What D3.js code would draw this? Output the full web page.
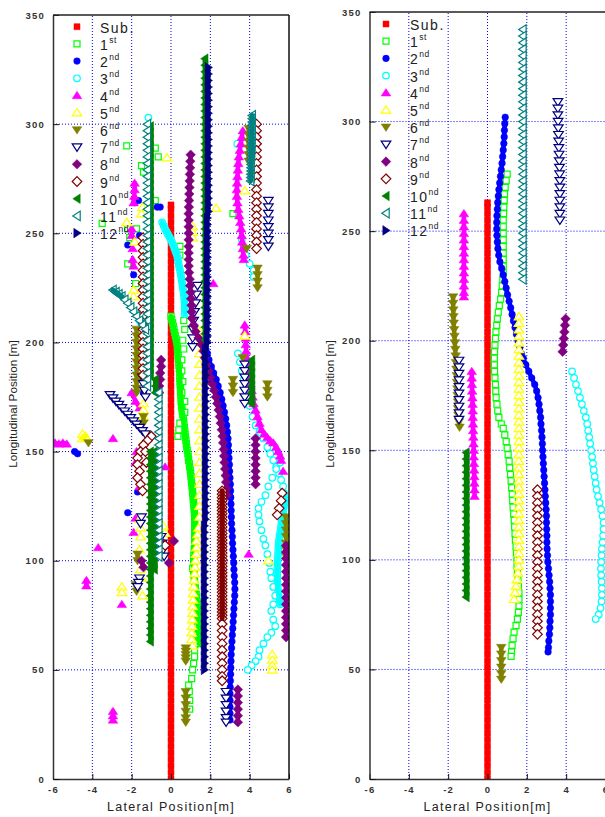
<!DOCTYPE html>
<html>
<head>
<meta charset="utf-8">
<script src="https://cdn.jsdelivr.net/npm/d3@7"></script>
<style>
  body { margin: 0; background: #fff; }
  svg { display: block; font-family: Arial, "Liberation Sans", sans-serif; }
</style>
</head>
<body>
<svg id="chart" width="605" height="817"></svg>
<script>
// legend labels and ticks
const seriesLabels = ["Sub.", "1", "2", "3", "4", "5", "6", "7", "8", "9", "10", "11", "12"];
const seriesSups = ["", "st", "nd", "nd", "nd", "nd", "nd", "nd", "nd", "nd", "nd", "nd", "nd"];
const xTickValues = [-6, -4, -2, 0, 2, 4, 6];
const yTickValues = [0, 50, 100, 150, 200, 250, 300, 350];

// subject vehicle, same in both panels
const subTrack = [[0,0],[0,3],[0,6],[0,9],[0,12],[0,15],[0,18],[0,21],[0,24],[0,27],[0,30],[0,33],[0,36],[0,39],[0,42],[0,45],[0,48],[0,51],[0,54],[0,57],[0,60],[0,63],[0,66],[0,69],[0,72],[0,75],[0,78],[0,81],[0,84],[0,87],[0,90],[0,93],[0,96],[0,99],[0,102],[0,105],[0,108],[0,111],[0,114],[0,117],[0,120],[0,123],[0,126],[0,129],[0,132],[0,135],[0,138],[0,141],[0,144],[0,147],[0,150],[0,153],[0,156],[0,159],[0,162],[0,165],[0,168],[0,171],[0,174],[0,177],[0,180],[0,183],[0,186],[0,189],[0,192],[0,195],[0,198],[0,201],[0,204],[0,207],[0,210],[0,213],[0,216],[0,219],[0,222],[0,225],[0,228],[0,231],[0,234],[0,237],[0,240],[0,243],[0,246],[0,249],[0,252],[0,255],[0,258],[0,261],[0,263]];

// ---- left panel, one list of tracks per vehicle ----
const leftSub = [subTrack];
const left1st = [
  [[0.0,212],[0.04,210.5],[0.08,209],[0.12,207.5],[0.15,206],[0.19,204.5],[0.22,203],[0.26,201.5],[0.3,200],[0.32,198.5],[0.33,197],[0.35,195.5],[0.36,194],[0.38,192.5],[0.4,191],[0.41,189.5],[0.42,188],[0.44,186.5],[0.45,185],[0.45,183.5],[0.46,182],[0.47,180.5],[0.48,179],[0.49,177.5],[0.5,176],[0.51,174.5],[0.52,173],[0.53,171.5],[0.55,170],[0.57,168.5],[0.6,167],[0.62,165.5],[0.64,164],[0.66,162.5],[0.68,161],[0.7,159.5],[0.72,158],[0.74,156.5],[0.76,155],[0.78,153.5],[0.8,152],[0.83,150.5],[0.86,149],[0.88,147.5],[0.9,146],[0.93,144.5],[0.95,143],[0.98,141.5],[1.0,140],[1.02,138.5],[1.03,137],[1.05,135.5],[1.07,134],[1.09,132.5],[1.1,131],[1.12,129.5],[1.13,128],[1.15,126.5],[1.16,125],[1.18,123.5],[1.19,122],[1.2,120.5],[1.2,119],[1.2,117.5],[1.2,116],[1.2,114.5],[1.2,113],[1.2,111.5],[1.2,110],[1.2,108.5],[1.2,107],[1.19,105.5],[1.18,104],[1.17,102.5],[1.16,101],[1.15,99.5],[1.15,98],[1.15,96.5],[1.15,95],[1.16,93.5],[1.18,92],[1.2,90.5],[1.22,89],[1.24,87.5],[1.26,86],[1.28,84.5],[1.3,83],[1.32,81.5],[1.33,80],[1.34,78.5],[1.35,77],[1.36,75.5],[1.37,74],[1.37,72.5],[1.38,71],[1.39,69.5],[1.4,68],[1.4,66.5],[1.4,65],[1.41,63.5],[1.42,62]],
  [[0.95,32],[0.95,36],[0.93,40],[0.9,43],[1.05,46],[1.1,50],[1.15,53],[1.2,56],[1.2,59],[1.25,62],[1.3,66],[1.35,70],[1.1,96.5]],
  [[0.45,244],[0.45,240],[0.65,210],[0.7,206],[0.6,201],[0.65,197],[0.55,192],[0.55,187],[0.6,182],[0.55,177],[0.7,173],[0.7,168],[0.45,163],[0.4,160],[0.35,157]],
  [[-2.25,290],[-1.5,281],[-1.4,278],[-0.8,289],[-0.65,285],[-0.8,265],[-3.5,254.5],[-2.2,252],[-1.75,252],[-2.1,248],[-2.2,236],[-1.8,227],[3.15,259]]
];
const left2nd = [
  [[1.75,198],[1.85,195],[1.93,192],[2.05,189],[2.17,186],[2.3,183],[2.4,180],[2.5,177],[2.58,174],[2.65,171],[2.72,168],[2.78,165],[2.83,162],[2.87,159],[2.9,156],[2.92,153],[2.94,150],[2.95,147],[2.97,144],[2.98,141],[3.0,138],[3.02,135],[3.03,132],[3.04,129],[3.05,126],[3.06,123],[3.07,120],[3.08,117],[3.1,114],[3.12,111],[3.13,108],[3.15,105],[3.17,102],[3.19,99],[3.2,96],[3.22,93],[3.24,90],[3.25,87],[3.24,84],[3.22,81],[3.2,78],[3.18,75],[3.16,72],[3.14,69],[3.12,66],[3.1,63],[3.08,60],[3.06,57],[3.05,54],[3.04,51],[3.03,48],[3.02,45],[3.01,42],[3.0,39],[3.0,36],[3.0,33],[3.0,30],[3.0,27]],
  [[-1.85,264],[-1.65,265],[-0.55,262],[-0.7,262],[-2.2,244.6],[-1.6,249],[-1.9,231],[-4.75,149],[-4.9,150],[-2.2,122],[-1.7,131.5],[-1.4,177]]
];
const left3rd = [
  [[-0.45,255],[-0.37,253.5],[-0.3,252],[-0.22,250.7],[-0.15,249.5],[-0.07,248.2],[0.0,247],[0.06,245.7],[0.12,244.5],[0.17,243.2],[0.22,242],[0.26,241],[0.3,240],[0.34,238.5],[0.37,237],[0.4,235.5],[0.43,234],[0.47,232.5],[0.5,231],[0.53,229.5],[0.55,228],[0.58,226.5],[0.6,225],[0.63,223.5],[0.65,222],[0.67,220.5],[0.68,219],[0.69,217.5],[0.7,216],[0.7,214.5],[0.7,213]],
  [[3.4,195],[3.5,191],[3.6,187],[3.7,183],[3.8,179],[3.9,175],[4.0,171],[4.15,166],[4.3,162],[4.5,159],[4.7,156],[4.9,152],[5.05,149],[5.2,146],[5.35,143],[5.5,140],[5.6,137],[5.7,134],[5.75,131],[5.78,129.5],[5.8,128],[5.78,126.5],[5.75,125],[5.72,123.5],[5.7,122],[5.68,120.5],[5.65,119],[5.62,117.5],[5.6,116],[5.58,114.5],[5.55,113],[5.52,111.5],[5.5,110],[5.48,108.5],[5.47,107],[5.46,105.5],[5.45,104],[5.44,102.5],[5.43,101],[5.42,99.5],[5.42,98],[5.41,96.5],[5.4,95],[5.4,93.5],[5.4,92],[5.41,90.5],[5.42,89],[5.43,87.5],[5.45,86],[5.47,84.5],[5.5,83],[5.52,81.5],[5.55,80]],
  [[5.55,145],[5.35,142],[5.15,138],[4.95,134],[4.8,130],[4.6,127],[4.45,124],[4.45,121],[4.5,118],[4.6,114],[4.7,110],[4.8,107],[4.9,103],[5.0,99],[5.05,95],[5.1,92],[5.2,88],[5.3,84],[5.2,80],[5.1,77],[5.2,73],[5.3,70],[5.1,67],[4.9,65],[4.7,62],[4.5,59],[4.45,56],[4.3,54],[4.1,52],[3.9,50]],
  [[-1.15,303],[3.37,291],[3.6,247],[3.7,243],[3.8,240],[4.0,236],[4.2,233],[4.2,230],[-1.6,213],[-1.6,210]]
];
const left4th = [
  [[3.65,297],[3.6,294],[3.55,291],[3.5,288],[3.45,285],[3.42,282],[3.4,279],[3.38,276],[3.36,273],[3.35,270],[3.35,267],[3.38,264],[3.42,261],[3.47,258],[3.52,255],[3.57,252],[3.6,249],[3.62,246],[3.65,243],[3.68,240],[3.7,238]],
  [[3.75,208],[3.78,205],[3.8,202],[3.8,199],[3.82,196],[3.85,193],[3.9,190],[3.95,187],[4.0,184],[4.05,181],[4.1,178],[4.15,175],[4.2,172],[4.3,169],[4.4,166],[4.5,163],[4.6,160],[4.75,158],[4.9,156.5],[5.05,155],[5.2,154],[5.35,152],[5.45,150],[5.55,148],[5.6,146]],
  [[-1.85,273],[-1.85,270],[-1.87,267],[-1.9,264],[-2.0,252],[-2.0,249],[-1.95,243],[-1.95,238],[-1.9,235]],
  [[-5.9,154],[-5.7,153.5],[-5.5,154],[-5.3,153.5]],
  [[-2.95,31],[-2.95,29],[-2.95,27],[-4.3,91],[-4.3,88.5],[-3.7,106],[-2.5,80],[3.95,103],[-2.95,156],[-2.0,177],[-1.8,173],[-1.6,170],[5.7,141],[2.15,227],[-0.3,143],[-1.75,150],[-1.8,145],[-1.6,134],[-1.8,119.5],[-1.9,113]]
];
const left5th = [
  [[1.45,205],[1.45,200],[1.45,195],[1.45,190],[1.45,185],[1.45,180],[1.45,175],[1.45,170],[1.45,165],[1.45,160],[1.45,155],[1.45,150],[1.45,145],[1.45,140],[1.45,135],[1.45,130],[1.45,125],[1.45,120],[1.4,115],[1.35,112],[1.3,109],[1.3,106],[1.28,103],[1.25,100],[1.22,97],[1.2,94],[1.17,91],[1.15,88],[1.13,85],[1.12,82],[1.1,79],[1.1,76],[1.08,73],[1.07,70],[1.05,67],[1.05,64],[1.1,61]],
  [[5.15,57],[5.15,54.5],[5.15,52],[5.15,50]],
  [[-2.5,88],[-2.5,85.5],[-4.5,158],[-4.5,156],[-4.35,157],[-0.2,284.6],[2.3,261.5],[3.75,269.5],[-2.25,255],[1.1,253],[1.1,250.5],[1.1,248],[3.75,203],[-1.9,224],[-1.9,221],[-1.4,172],[-1.4,169],[-1.4,166],[4.95,100],[-1.6,119],[-1.55,115],[-1.6,105],[-1.55,96],[-1.5,92],[-1.45,84],[-0.3,112.6],[-1.85,246],[-1.5,259],[-1.45,262],[-0.4,116],[-1.55,111]]
];
const left6th = [
  [[-1.75,206],[-1.75,203],[-1.75,200],[-1.75,197],[-1.75,194],[-1.75,191],[-1.75,188],[-1.75,185],[-1.75,182],[-1.75,179],[-1.75,177]],
  [[4.4,234],[4.4,231],[4.4,228],[4.4,225]],
  [[3.95,298],[3.95,295],[3.95,292],[3.95,289],[3.95,286],[3.95,283]],
  [[0.75,60],[0.75,58.5],[0.75,57],[0.75,55.5],[0.75,54]],
  [[0.75,40],[0.75,37],[0.75,34],[0.75,31],[0.75,28],[0.75,26]],
  [[5.85,120],[5.85,117],[5.85,114],[5.85,111],[5.85,108],[5.85,105],[5.85,102]],
  [[3.85,243],[3.15,183],[3.15,180],[3.15,177],[4.9,181],[4.9,178],[4.9,175],[3.65,193],[-4.2,154],[-1.4,166],[-1.4,163],[-1.7,103],[-1.7,100],[-1.8,89],[-1.75,86],[-1.3,223],[-1.3,220]]
];
const left7th = [
  [[4.95,265],[4.95,262],[4.95,259],[4.95,256],[4.95,253],[4.95,250],[4.95,247],[4.95,244]],
  [[-3.1,176],[-2.95,174.5],[-2.8,173],[-2.65,171.5],[-2.5,170],[-2.35,168.5],[-2.2,167],[-2.05,165.5],[-1.9,164],[-1.75,162.5],[-1.6,161],[-1.45,159.5],[-1.3,158]],
  [[3.75,190],[3.75,187],[3.75,184],[3.75,181],[3.75,178],[3.75,175],[3.75,172]],
  [[2.8,40],[2.8,37],[2.8,34],[2.8,31],[2.8,28],[2.8,26]],
  [[-0.5,111],[-0.45,108],[-0.4,105],[-0.35,102]],
  [[-1.6,92],[-1.65,90],[-1.7,88],[-1.5,120],[-1.55,117]],
  [[-1.45,184],[-1.4,181],[-1.35,178],[-1.3,175]],
  [[1.35,226],[1.3,222],[1.25,218],[1.2,214],[1.15,210],[1.12,206],[1.1,202],[1.1,198]]
];
const left8th = [
  [[1.0,286],[0.98,283],[0.97,280],[0.96,277],[0.95,274],[0.94,271],[0.93,268],[0.92,265],[0.91,262],[0.9,259],[0.9,256],[0.9,253],[0.9,250],[0.9,247],[0.9,244],[0.9,241],[0.9,238],[0.9,235],[0.92,232],[0.95,229],[0.97,226],[1.0,223],[1.02,220],[1.04,217],[1.05,214],[1.07,211],[1.15,208],[1.25,205],[1.4,202],[1.55,199],[1.65,196],[1.72,193],[1.8,190],[1.9,187],[2.0,184],[2.1,181],[2.2,178],[2.28,175],[2.35,172],[2.42,169],[2.48,166],[2.53,163],[2.58,160],[2.62,157],[2.65,154],[2.68,151],[2.7,148],[2.72,145],[2.75,142],[2.78,139],[2.8,136],[2.83,133],[2.85,130]],
  [[4.3,156],[4.3,153],[4.3,150],[4.3,147],[4.3,144],[4.3,141],[4.3,138],[4.3,135]],
  [[5.85,107],[5.85,104],[5.85,101],[5.85,98],[5.85,95],[5.85,92],[5.85,89],[5.85,86],[5.85,83],[5.85,80],[5.85,77],[5.85,74],[5.85,71],[5.85,68],[5.85,65]],
  [[3.4,41],[3.4,38],[3.4,35],[3.4,32],[3.4,29],[3.4,26]],
  [[-0.5,192],[-0.5,189],[-0.55,186],[-0.55,183],[-0.6,180],[-0.6,177]],
  [[0.15,109],[-0.1,99],[-0.4,108],[-1.4,97],[-1.5,100]]
];
const left9th = [
  [[-1.42,248],[-1.42,245],[-1.42,242],[-1.42,239],[-1.42,236],[-1.42,233],[-1.42,230],[-1.42,227],[-1.42,224],[-1.42,221],[-1.42,218],[-1.42,215],[-1.42,212],[-1.42,209],[-1.42,206],[-1.42,203],[-1.42,200],[-1.42,197],[-1.42,194],[-1.42,191],[-1.42,188],[-1.42,185]],
  [[-1.0,157],[-1.2,155],[-1.4,153],[-1.55,150],[-1.7,147],[-1.7,144],[-1.6,141],[-1.7,138],[-1.55,135],[-1.45,132],[-1.3,150],[-1.25,145]],
  [[4.35,300],[4.35,297],[4.35,294],[4.35,291],[4.35,288],[4.35,285],[4.35,282],[4.35,279],[4.35,276],[4.35,273],[4.35,270],[4.35,267],[4.35,264],[4.35,261],[4.35,258],[4.35,255],[4.35,252],[4.35,249],[4.35,246],[4.35,243]],
  [[2.6,132],[2.6,130.5],[2.6,129],[2.6,127.5],[2.6,126],[2.6,124.5],[2.6,123],[2.6,121.5],[2.6,120],[2.6,118.5],[2.6,117],[2.6,115.5],[2.6,114],[2.6,112.5],[2.6,111],[2.6,109.5],[2.6,108],[2.6,106.5],[2.6,105],[2.6,103.5],[2.6,102],[2.6,100.5],[2.6,99],[2.6,97.5],[2.6,96],[2.6,94.5],[2.6,93],[2.6,91.5],[2.6,90],[2.6,88.5],[2.6,87],[2.6,85.5],[2.6,84],[2.6,82.5],[2.6,81],[2.6,79.5],[2.6,78],[2.6,76.5],[2.6,75],[2.6,73.5],[2.6,71],[2.6,68],[2.6,65],[2.6,62],[2.6,59],[2.6,56],[2.6,53],[2.6,50],[2.6,47],[2.6,45]],
  [[5.65,131],[5.6,127.5],[5.5,124],[5.4,121]],
  [[-0.3,107]]
];
const left10th = [
  [[1.72,330],[1.72,327],[1.72,324],[1.72,321],[1.72,318],[1.72,315],[1.72,312],[1.72,309],[1.72,306],[1.72,303],[1.72,300],[1.72,297],[1.72,294],[1.72,291],[1.72,288],[1.72,285],[1.72,282],[1.72,279],[1.72,276],[1.72,273],[1.72,270],[1.72,267],[1.72,264],[1.72,261],[1.72,258],[1.72,255],[1.72,252],[1.72,249],[1.72,246],[1.72,243],[1.72,240],[1.72,237],[1.72,234],[1.72,231],[1.72,228],[1.72,225],[1.72,222],[1.72,219],[1.72,216],[1.72,213],[1.72,210],[1.72,207],[1.72,204],[1.72,201]],
  [[-1.05,150],[-1.05,147],[-1.05,144],[-1.05,141],[-1.05,138],[-1.05,135],[-1.05,132],[-1.05,129],[-1.05,126],[-1.05,123],[-1.05,120],[-1.05,117],[-1.05,114],[-1.05,111],[-1.05,108],[-1.05,105],[-1.05,102],[-1.05,99],[-1.05,96],[-1.05,93],[-1.05,90],[-1.05,87],[-1.05,84],[-1.05,81],[-1.05,78],[-1.05,75],[-1.05,72],[-1.05,69],[-1.05,66],[-1.05,63]],
  [[-0.85,150],[-0.85,147],[-0.85,144],[-0.85,141],[-0.85,138],[-0.85,135],[-0.85,132],[-0.85,129],[-0.85,126],[-0.85,123],[-0.85,120],[-0.85,117],[-0.85,114],[-0.85,111],[-0.85,108],[-0.85,105],[-0.85,102],[-0.85,99],[-0.85,96]],
  [[-1.05,299],[-1.05,296],[-1.05,293],[-1.05,290],[-1.05,287],[-1.05,284],[-1.05,281],[-1.05,278],[-1.05,275],[-1.05,272],[-1.05,269],[-1.05,266],[-1.05,263],[-1.05,260],[-1.05,257],[-1.05,254],[-1.05,251],[-1.05,248],[-1.05,245],[-1.05,242],[-1.05,239],[-1.05,236],[-1.05,233],[-1.05,230],[-1.05,227],[-1.05,224],[-1.05,221],[-1.05,218],[-1.05,215],[-1.05,212],[-1.05,209],[-1.05,206],[-1.05,203],[-1.05,200],[-1.05,197],[-1.05,194],[-1.05,191],[-1.05,188],[-1.05,185]],
  [[4.1,192],[4.1,189],[4.1,186],[4.1,183],[4.1,180],[4.1,177],[4.1,174],[4.1,172]],
  [[-0.8,183],[-0.8,180],[-0.8,177]]
];
const left11th = [
  [[-1.2,300],[-1.2,297],[-1.2,294],[-1.2,291],[-1.2,288],[-1.2,285],[-1.2,282],[-1.2,279],[-1.2,276],[-1.2,273],[-1.2,270],[-1.2,267],[-1.2,264],[-1.2,261],[-1.2,258],[-1.2,255],[-1.2,252],[-1.2,249],[-1.2,246],[-1.2,243],[-1.2,240],[-1.2,237],[-1.2,234],[-1.2,231],[-1.2,228],[-1.2,225],[-1.2,222],[-1.2,219],[-1.2,216],[-1.2,213],[-1.2,210],[-1.2,207],[-1.2,204],[-1.2,201],[-1.2,198],[-1.2,195],[-1.2,192],[-1.2,189],[-1.2,186],[-1.2,183],[-1.2,180]],
  [[-0.62,177],[-0.62,174],[-0.62,171],[-0.62,168],[-0.62,165],[-0.62,162],[-0.62,159],[-0.62,156],[-0.62,153],[-0.62,150],[-0.62,147],[-0.62,144],[-0.62,141],[-0.62,138],[-0.62,135],[-0.62,132],[-0.62,129],[-0.62,126],[-0.62,123],[-0.62,120],[-0.62,117],[-0.62,114],[-0.62,111],[-0.62,108],[-0.62,105],[-0.62,102]],
  [[-2.95,224],[-2.8,223],[-2.65,222],[-2.5,221],[-2.35,219.5],[-2.2,218],[-2.05,216],[-1.9,214],[-1.75,212],[-1.6,210],[-1.45,208],[-1.3,206]],
  [[4.13,304],[4.13,302.5],[4.13,301],[4.12,299.5],[4.12,298],[4.11,296.5],[4.11,295],[4.11,293.5],[4.1,292],[4.1,290.5],[4.1,289],[4.09,287.5],[4.09,286],[4.08,284.5],[4.08,283],[4.07,281.5],[4.07,280],[4.07,278.5],[4.06,277],[4.06,275.5],[4.05,274]]
];
const left12th = [
  [[1.9,326],[1.9,323],[1.9,320],[1.9,317],[1.9,314],[1.9,311],[1.9,308],[1.9,305],[1.9,302],[1.9,299],[1.9,296],[1.9,293],[1.9,290],[1.9,287],[1.9,284],[1.9,281],[1.9,278],[1.9,275],[1.9,272],[1.9,269],[1.9,266],[1.9,263],[1.9,260],[1.85,257],[1.85,254],[1.85,251],[1.85,248],[1.85,245],[1.85,242],[1.85,239],[1.85,236],[1.85,233],[1.85,230],[1.85,227],[1.85,224],[1.85,221],[1.85,218],[1.85,215],[1.85,212],[1.85,209],[1.85,206],[1.85,203],[1.85,200],[1.75,197],[1.75,194],[1.75,191],[1.75,188],[1.75,185],[1.75,182],[1.75,179],[1.75,176],[1.75,173],[1.75,170],[1.75,167],[1.75,164],[1.75,161],[1.75,158],[1.75,155],[1.75,152],[1.75,149],[1.75,146],[1.75,143],[1.75,140],[1.75,137],[1.75,134],[1.75,131],[1.75,128],[1.75,125],[1.75,122],[1.75,119],[1.7,116],[1.7,113],[1.7,110],[1.7,107],[1.7,104],[1.7,101],[1.7,98],[1.7,95],[1.7,92],[1.7,89],[1.7,86],[1.7,83],[1.7,80],[1.7,77],[1.7,74],[1.7,71],[1.7,68],[1.7,65],[1.7,62],[1.7,59],[1.7,56],[1.7,53],[1.7,50]]
];

// ---- right panel ----
const rightSub = [subTrack];
const right1st = [
  [[1.0,276],[0.95,273],[0.9,270],[0.87,267],[0.85,264],[0.83,261],[0.82,258],[0.8,255],[0.8,252],[0.8,249],[0.8,246],[0.8,243],[0.8,240],[0.8,237],[0.8,234],[0.8,231],[0.78,228],[0.75,225],[0.72,222],[0.67,219],[0.6,216],[0.55,213],[0.5,210],[0.47,207],[0.43,204],[0.4,201],[0.38,198],[0.36,195],[0.35,192],[0.35,189],[0.36,186],[0.38,183],[0.4,180],[0.42,177],[0.44,174],[0.48,171],[0.52,168],[0.58,165],[0.7,162],[0.8,160],[0.88,157],[0.95,154],[1.0,151],[1.05,148],[1.1,145],[1.13,142],[1.17,139],[1.2,136],[1.23,133],[1.26,130],[1.28,127],[1.3,124],[1.33,121],[1.36,118],[1.38,115],[1.4,112],[1.42,109],[1.45,106],[1.47,103],[1.5,100],[1.5,97],[1.52,94],[1.55,91],[1.57,88],[1.6,85],[1.6,82],[1.6,79],[1.57,76],[1.52,73],[1.45,70],[1.35,67],[1.3,64],[1.25,61],[1.22,58],[1.2,56]]
];
const right2nd = [
  [[0.9,302],[0.88,299],[0.86,296],[0.85,293],[0.83,290],[0.8,287],[0.77,284],[0.74,281],[0.7,278],[0.66,275],[0.62,272],[0.58,269],[0.55,266],[0.52,263],[0.5,260],[0.48,257],[0.47,254],[0.47,251],[0.48,248],[0.5,245],[0.53,242],[0.57,239],[0.63,236],[0.72,233],[0.8,230],[0.88,227],[0.95,224],[1.02,221],[1.1,218],[1.18,215],[1.25,212],[1.32,209],[1.4,206],[1.47,203],[1.55,200],[1.65,197],[1.73,194],[1.82,192],[1.95,189],[2.1,186],[2.25,183],[2.4,180],[2.5,177],[2.57,174],[2.62,171],[2.66,168],[2.7,165],[2.72,162],[2.75,159],[2.77,156],[2.79,153],[2.8,150],[2.82,147],[2.84,144],[2.86,141],[2.88,138],[2.9,135],[2.92,132],[2.94,129],[2.96,126],[2.98,123],[3.0,120],[3.0,117],[3.01,114],[3.02,111],[3.02,108],[3.03,105],[3.05,102],[3.07,99],[3.1,96],[3.13,93],[3.16,90],[3.18,87],[3.2,84],[3.2,81],[3.2,78],[3.2,75],[3.18,72],[3.17,69],[3.15,66],[3.12,63],[3.1,60],[3.08,58]]
];
const right3rd = [
  [[4.3,186],[4.4,183],[4.5,180],[4.6,177],[4.7,174],[4.8,171],[4.9,168],[5.0,165],[5.07,162],[5.12,159],[5.17,156],[5.22,153],[5.27,150],[5.32,147],[5.36,144],[5.4,141],[5.45,138],[5.5,135],[5.55,132],[5.62,129],[5.7,126],[5.78,123],[5.85,120],[5.9,117],[5.9,114],[5.88,111],[5.85,108],[5.82,105],[5.8,102],[5.78,99],[5.77,96],[5.78,93],[5.8,90],[5.82,87],[5.82,84],[5.8,81],[5.75,78],[5.65,75],[5.5,73]]
];
const right4th = [
  [[-1.2,258],[-1.2,255],[-1.2,252],[-1.2,249],[-1.2,246],[-1.2,243],[-1.2,240],[-1.2,237],[-1.2,234],[-1.2,231],[-1.2,228],[-1.2,225],[-1.2,222],[-1.2,220]],
  [[-0.8,186],[-0.8,183],[-0.79,180],[-0.78,177],[-0.77,174],[-0.76,171],[-0.75,168],[-0.75,165],[-0.74,162],[-0.73,159],[-0.72,156],[-0.71,153],[-0.7,150],[-0.7,147],[-0.69,144],[-0.68,141],[-0.67,138],[-0.67,135],[-0.66,132],[-0.66,129]]
];
const right5th = [
  [[1.6,211],[1.6,208],[1.6,205],[1.6,202],[1.6,199],[1.6,196],[1.6,193],[1.6,190],[1.6,187],[1.6,184],[1.6,181],[1.6,178],[1.6,175],[1.6,172],[1.6,169],[1.6,166],[1.6,163],[1.6,160],[1.6,157],[1.6,154],[1.6,151],[1.6,148],[1.6,145],[1.6,142],[1.6,139],[1.6,136],[1.6,133],[1.6,130],[1.6,127],[1.6,124],[1.6,121],[1.6,118],[1.6,115],[1.6,112],[1.6,109],[1.6,106],[1.6,103],[1.6,100],[1.58,97],[1.55,94],[1.5,91],[1.45,88],[1.4,85],[1.35,82]]
];
const right6th = [
  [[-1.75,220],[-1.75,217],[-1.74,214],[-1.73,211],[-1.72,208],[-1.7,205],[-1.68,202],[-1.66,199],[-1.64,196],[-1.62,193],[-1.6,190],[-1.58,187],[-1.56,184],[-1.55,181],[-1.53,178],[-1.52,175],[-1.5,172],[-1.5,169],[-1.48,166],[-1.45,163],[-1.42,160.5]],
  [[0.7,60],[0.7,57],[0.7,54],[0.7,51],[0.7,48],[0.7,45.5]]
];
const right7th = [
  [[3.58,309],[3.58,306],[3.58,303],[3.59,300],[3.6,297],[3.61,294],[3.62,291],[3.63,288],[3.64,285],[3.65,282],[3.66,279],[3.67,276],[3.68,273],[3.68,270],[3.68,267],[3.68,264],[3.68,261],[3.68,258],[3.68,255]],
  [[-1.45,191],[-1.45,188],[-1.45,185],[-1.45,182],[-1.45,179],[-1.45,176],[-1.45,173],[-1.45,170],[-1.45,167],[-1.45,164]]
];
const right8th = [
  [[3.97,210],[3.94,207],[3.91,204],[3.88,201],[3.85,198],[3.82,195]]
];
const right9th = [
  [[2.54,132],[2.54,129],[2.54,126],[2.54,123],[2.54,120],[2.54,117],[2.54,114],[2.54,111],[2.54,108],[2.54,105],[2.54,102],[2.54,99],[2.54,96],[2.54,93],[2.54,90],[2.54,87],[2.54,84],[2.54,81],[2.54,78],[2.54,75],[2.54,72],[2.54,69],[2.54,66]]
];
const right10th = [
  [[-1.09,149],[-1.09,146],[-1.09,143],[-1.09,140],[-1.09,137],[-1.09,134],[-1.09,131],[-1.09,128],[-1.09,125],[-1.09,122],[-1.09,119],[-1.09,116],[-1.09,113],[-1.09,110],[-1.09,107],[-1.09,104],[-1.09,101],[-1.09,98],[-1.09,95],[-1.09,92],[-1.09,89],[-1.09,86],[-1.09,83]]
];
const right11th = [
  [[1.8,342],[1.8,339],[1.8,336],[1.8,333],[1.8,330],[1.8,327],[1.8,324],[1.8,321],[1.8,318],[1.8,315],[1.8,312],[1.8,309],[1.8,306],[1.8,303],[1.8,300],[1.8,297],[1.8,294],[1.8,291],[1.8,288],[1.8,285],[1.8,282],[1.8,279],[1.8,276],[1.8,273],[1.8,270],[1.8,267],[1.8,264],[1.8,261],[1.8,258],[1.8,255],[1.8,252],[1.8,249],[1.8,246],[1.8,243],[1.8,240],[1.8,237],[1.8,234],[1.8,231],[1.8,228]]
];
const right12th = [];

// styles per vehicle
const colors = ["#ff0000", "#00ff00", "#0000ff", "#00ffff", "#ff00ff", "#ffff00", "#808000", "#000080", "#800080", "#800000", "#008000", "#008080", "#000080"];
const shapes = ["square", "square", "circle", "circle", "up", "up", "down", "down", "diamond", "diamond", "left", "left", "right"];
const solid = [true, false, true, false, true, false, true, false, true, false, true, false, true];

function markerPath(kind) {
  switch (kind) {
    case "square": return "M-3,-3H3V3H-3Z";
    case "circle": return "M3.3,0A3.3,3.3,0,1,1,-3.3,0A3.3,3.3,0,1,1,3.3,0Z";
    case "up": return "M0,-4.2L4.8,3.2L-4.8,3.2Z";
    case "down": return "M0,4.2L4.8,-3.2L-4.8,-3.2Z";
    case "left": return "M-4.2,0L3.2,-4.8L3.2,4.8Z";
    case "right": return "M4.2,0L-3.2,-4.8L-3.2,4.8Z";
    case "diamond": return "M0,-4.8L4.8,0L0,4.8L-4.8,0Z";
  }
}

const panels = [
  { id: "L", left: 53, right: 289, top: 15, bottom: 779, box: true,
    series: [leftSub, left1st, left2nd, left3rd, left4th, left5th, left6th, left7th, left8th, left9th, left10th, left11th, left12th],
    legendX: 77, legendTop: 26.7, labelX: 100, yTitleX: 17 },
  { id: "R", left: 369.5, right: 605.5, top: 12, bottom: 779, box: false,
    series: [rightSub, right1st, right2nd, right3rd, right4th, right5th, right6th, right7th, right8th, right9th, right10th, right11th, right12th],
    legendX: 386, legendTop: 24, labelX: 410, yTitleX: 334 }
];

const svg = d3.select("#chart");

function drawPanel(p) {
  const x = d3.scaleLinear().domain([-6, 6]).range([p.left, p.right]);
  const y = d3.scaleLinear().domain([0, 350]).range([p.bottom, p.top]);
  const g = svg.append("g");

  svg.append("clipPath").attr("id", "clip" + p.id).append("rect")
    .attr("x", p.left).attr("y", p.top)
    .attr("width", p.right - p.left).attr("height", p.bottom - p.top);

  // dotted grid
  g.append("g").selectAll("line").data(xTickValues.slice(1, -1)).join("line")
    .attr("x1", d => x(d)).attr("x2", d => x(d))
    .attr("y1", y(0)).attr("y2", y(350))
    .attr("stroke", "#0000ff").attr("stroke-width", 1).attr("stroke-dasharray", "1,2");
  g.append("g").selectAll("line").data(yTickValues.slice(1, -1)).join("line")
    .attr("x1", x(-6)).attr("x2", x(6))
    .attr("y1", d => y(d)).attr("y2", d => y(d))
    .attr("stroke", "#0000ff").attr("stroke-width", 1).attr("stroke-dasharray", "1,2");

  // tracks: where markers sit closer than they are wide they merge into a band
  const dataG = g.append("g").attr("clip-path", `url(#clip${p.id})`);
  p.series.forEach((tracks, i) => {
    const gap = solid[i] ? 10 : 4;
    const segs = tracks.flatMap(tr => d3.pairs(tr)).filter(([a, b]) =>
      Math.hypot(x(a[0]) - x(b[0]), y(a[1]) - y(b[1])) < gap);
    const band = sel => sel.selectAll("line").data(segs).join("line")
      .attr("x1", d => x(d[0][0])).attr("y1", d => y(d[0][1]))
      .attr("x2", d => x(d[1][0])).attr("y2", d => y(d[1][1]))
      .attr("stroke", colors[i]).attr("stroke-linecap", "round");

    band(dataG.append("g")).attr("stroke-width", solid[i] ? 4.5 : 6);
    dataG.append("g").selectAll("path").data(tracks.flat()).join("path")
      .attr("transform", d => `translate(${x(d[0])},${y(d[1])})`)
      .attr("d", markerPath(shapes[i]))
      .attr("fill", solid[i] ? colors[i] : "#fff")
      .attr("stroke", colors[i])
      .attr("stroke-width", solid[i] ? 0.5 : 1.2);
    // open markers: redraw the merged band on top so it reads as solid
    if (!solid[i]) band(dataG.append("g")).attr("stroke-width", 5);
  });

  // axes
  const xAxis = g.append("g").attr("transform", `translate(0,${p.bottom})`)
    .call(d3.axisBottom(x).tickValues(xTickValues).tickSize(-5).tickSizeOuter(0)
      .tickPadding(7).tickFormat(d => String(d)));
  const yAxis = g.append("g").attr("transform", `translate(${p.left},0)`)
    .call(d3.axisLeft(y).tickValues(yTickValues).tickSize(-6).tickSizeOuter(0)
      .tickPadding(8).tickFormat(d => String(d)));
  [xAxis, yAxis].forEach(a => {
    a.attr("font-family", null).attr("font-size", null);
    a.select(".domain").attr("stroke", "#333").attr("stroke-width", 1.5);
    a.selectAll(".tick line").attr("stroke", "#111");
    a.selectAll(".tick text").attr("font-size", 9.5).attr("font-weight", "bold")
      .attr("fill", "#333").attr("letter-spacing", 1.2);
  });

  g.append("line").attr("x1", x(-6)).attr("x2", x(6)).attr("y1", y(350)).attr("y2", y(350))
    .attr("stroke", "#222").attr("stroke-width", 1.5);
  if (p.box) {
    g.append("line").attr("x1", x(6)).attr("x2", x(6)).attr("y1", y(350)).attr("y2", y(0))
      .attr("stroke", "#111").attr("stroke-width", 1.5);
  }

  // titles
  g.append("text").attr("x", x(0)).attr("y", 811).attr("text-anchor", "middle")
    .attr("font-size", 12.5).attr("letter-spacing", 1.3).attr("fill", "#222")
    .text("Lateral Position[m]");
  g.append("text").attr("transform", `translate(${p.yTitleX},404) rotate(-90)`)
    .attr("text-anchor", "middle").attr("font-size", 11.7).attr("fill", "#222")
    .text("Longitudinal Position [m]");

  // legend
  const leg = g.append("g");
  seriesLabels.forEach((lab, i) => {
    const cy = p.legendTop + i * 17.2;
    leg.append("path").attr("transform", `translate(${p.legendX},${cy})`)
      .attr("d", markerPath(shapes[i]))
      .attr("fill", solid[i] ? colors[i] : "#fff")
      .attr("stroke", colors[i]).attr("stroke-width", solid[i] ? 0.5 : 1.2);
    const t = leg.append("text").attr("x", p.labelX).attr("y", cy + 6)
      .attr("font-size", 14).attr("letter-spacing", 1.5).attr("fill", "#222");
    t.append("tspan").text(lab);
    if (seriesSups[i]) {
      t.append("tspan").attr("dy", -7).attr("font-size", 8.5).attr("letter-spacing", 0.5)
        .text(seriesSups[i]);
    }
  });
}

panels.forEach(drawPanel);
</script>
</body>
</html>
